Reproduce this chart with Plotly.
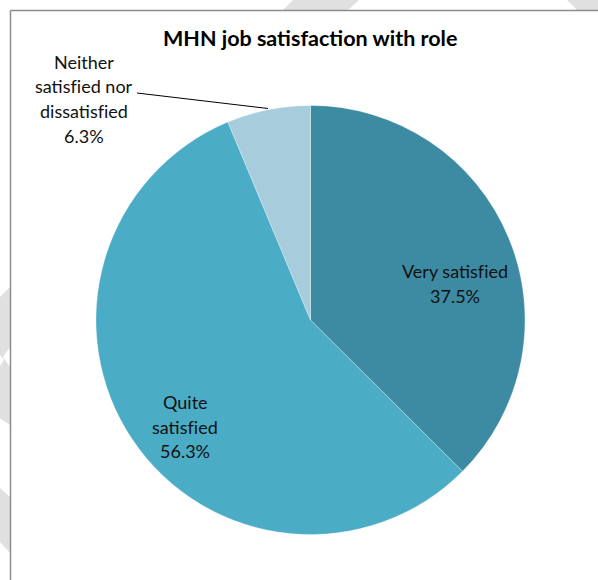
import plotly.graph_objects as go

# ---- data ----
categories = ["Very satisfied", "Quite satisfied", "Neither satisfied nor dissatisfied"]
values = [37.5, 56.3, 6.3]
label_lines = [["Very satisfied"], ["Quite", "satisfied"], ["Neither", "satisfied nor", "dissatisfied"]]
colors = ["#3C8BA3", "#4BACC6", "#A7CDDC"]
title_text = "MHN job satisfaction with role"

W, H = 598, 580
FONT = "Lato, 'Open Sans', sans-serif"
ZWNJ = "\u200c"  # keeps 'f' and 'i' as separate glyphs (no ligature)


def px(x):
    return x / W


def py(y):
    return 1 - y / H


cx, cy, r = 310.5, 320, 214.5

fig = go.Figure(go.Pie(
    labels=categories,
    values=values,
    sort=False,
    direction="clockwise",
    rotation=0,
    textinfo="none",
    hoverinfo="label+percent",
    marker=dict(colors=colors, line=dict(color="rgba(255,255,255,0.45)", width=0.6)),
    domain=dict(x=[px(cx - r), px(cx + r)], y=[py(cy + r), py(cy - r)]),
    showlegend=False,
))

# label block: centre x and y of first line, line spacing (pixels)
label_pos = [(455, 271), (185, 402), (84, 62)]
LINE_GAP = 24.5
annotations = []
for lines, v, (lx, ly) in zip(label_lines, values, label_pos):
    all_lines = lines + [f"{v:.1f}%"]
    for i, t in enumerate(all_lines):
        annotations.append(dict(
            x=px(lx), y=py(ly + i * LINE_GAP), xref="paper", yref="paper",
            text=t.replace("fi", "f" + ZWNJ + "i"), showarrow=False,
            xanchor="center", yanchor="middle", align="center",
            font=dict(family=FONT, size=18, color="#111111"),
        ))

annotations.append(dict(
    x=px(310), y=py(38), xref="paper", yref="paper",
    text=f"<b>{title_text}</b>", showarrow=False,
    xanchor="center", yanchor="middle",
    font=dict(family=FONT, size=21.5, color="#000000"),
))


def poly(points):
    d = "M " + " L ".join(f"{px(x)},{py(y)}" for x, y in points) + " Z"
    return dict(type="path", path=d, xref="paper", yref="paper",
                fillcolor="#E0E0E0", line=dict(width=0), layer="below")


shapes = [
    # faint background stripes outside the frame
    poly([(283, 10), (293, 0), (359, 0), (348, 10)]),
    poly([(567, 0), (598, 0), (598, 10), (577, 10)]),
    poly([(0, 297), (10, 287), (10, 347), (3, 357), (10, 367), (10, 425), (0, 418), (0, 366), (4, 360), (0, 355)]),
    poly([(0, 488), (10, 497), (10, 553), (0, 542)]),
    # chart frame
    dict(type="line", xref="paper", yref="paper", x0=px(10.5), y0=py(10.5), x1=px(600), y1=py(10.5),
         line=dict(color="#8C8C8C", width=1.5)),
    dict(type="line", xref="paper", yref="paper", x0=px(10.5), y0=py(10.5), x1=px(10.5), y1=py(585),
         line=dict(color="#8C8C8C", width=1.5)),
    # leader line for the small slice
    dict(type="line", xref="paper", yref="paper", x0=px(137), y0=py(93), x1=px(268), y1=py(108.5),
         line=dict(color="#000000", width=1)),
]

fig.update_layout(
    width=W, height=H,
    margin=dict(l=0, r=0, t=0, b=0),
    paper_bgcolor="white",
    plot_bgcolor="white",
    annotations=annotations,
    shapes=shapes,
)

fig.write_html("out.html", config={"displayModeBar": False})

# remove the browser's default 8px body margin so the figure sits at (0, 0)
with open("out.html", encoding="utf-8") as f:
    html = f.read()
html = html.replace("<head>", "<head><style>html,body{margin:0;padding:0;overflow:hidden;}</style>", 1)
with open("out.html", "w", encoding="utf-8") as f:
    f.write(html)
